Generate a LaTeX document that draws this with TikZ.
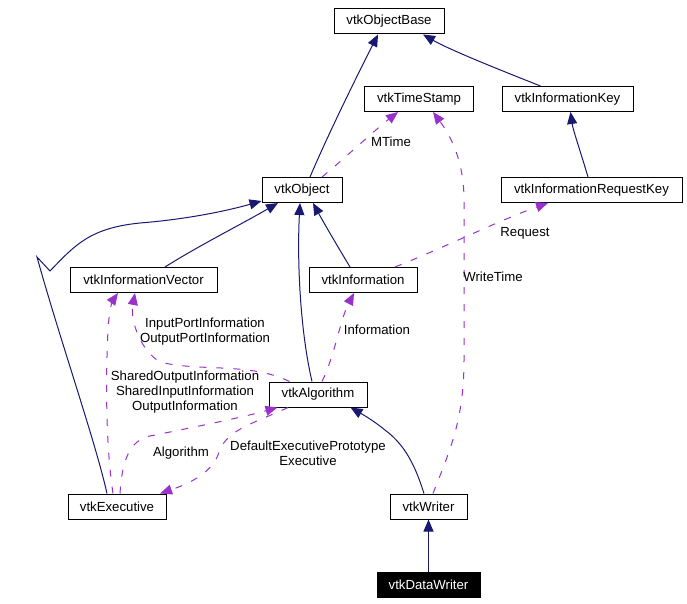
\documentclass[tikz,border=0pt]{standalone}
\usepackage{fontspec}
\setmainfont{Liberation Sans}
\usetikzlibrary{arrows.meta}
\definecolor{navy}{RGB}{25,25,112}
\definecolor{orchid}{RGB}{153,50,204}
\tikzset{
  cls/.style={draw=black, line width=1pt, minimum height=25pt, inner sep=0pt, font=\fontsize{13.2}{15}\selectfont},
  inh/.style={draw=navy, line width=1pt, -{Triangle[length=12pt,width=10pt]}, fill=none},
  use/.style={draw=orchid, line width=1pt, dash pattern=on 7pt off 10pt, -{Triangle[length=12pt,width=10pt]}},
  lbl/.style={font=\fontsize{13.2}{15}\selectfont, align=center, inner sep=0pt}
}
\begin{document}
\begin{tikzpicture}[x=1pt,y=-1pt]
\useasboundingbox (0,0) rectangle (687,604);
% nodes
\node[cls, minimum width=110pt] (objbase) at (389,21.5) {vtkObjectBase};
\node[cls, minimum width=109pt] (ts) at (419,99) {vtkTimeStamp};
\node[cls, minimum width=131pt] (infokey) at (567.5,99) {vtkInformationKey};
\node[cls, minimum width=80pt] (obj) at (302,190) {vtkObject};
\node[cls, minimum width=181pt] (reqkey) at (591.5,190) {vtkInformationRequestKey};
\node[cls, minimum width=108pt] (info) at (363,280) {vtkInformation};
\node[cls, minimum width=147pt] (infovec) at (143.5,280) {vtkInformationVector};
\node[cls, minimum width=98pt] (alg) at (318,394.5) {vtkAlgorithm};
\node[cls, minimum width=98pt] (exec) at (117,506.5) {vtkExecutive};
\node[cls, minimum width=77pt] (writer) at (428.5,506.5) {vtkWriter};
\node[cls, minimum width=103pt, fill=black, text=white] (dw) at (428.5,584.5) {vtkDataWriter};
% inheritance
\draw[inh] ([xshift=8pt]obj.north) .. controls (330,130) and (360,70) .. ([xshift=-11pt]objbase.south);
\draw[inh] ([xshift=-27pt]infokey.north) .. controls (500,70) and (450,50) .. ([xshift=34pt]objbase.south);
\draw[inh] ([xshift=-3.5pt]reqkey.north) .. controls (580,150) and (573,130) .. ([xshift=3pt]infokey.south);
\draw[inh] ([xshift=21.5pt]infovec.north) .. controls (200,245) and (240,225) .. ([xshift=-24pt]obj.south);
\coordinate (bend) at (37,257);
\draw[inh] ([xshift=-10pt]exec.north) .. controls (95,440) and (60,340) .. (bend) -- (50,271) .. controls (75,245) and (90,228) .. (140,223) .. controls (190,219) and (230,210) .. ([yshift=2pt]obj.south west);
\draw[inh] ([xshift=-13pt]info.north) .. controls (338,247) and (325,225) .. ([xshift=11pt]obj.south);
\draw[inh] ([xshift=-6pt]alg.north) .. controls (300,330) and (297,260) .. ([xshift=-2pt]obj.south);
\draw[inh] ([xshift=-4.5pt]writer.north) .. controls (415,465) and (405,445) .. (385,430) .. controls (370,418) and (360,413) .. ([xshift=-17pt]alg.south east);
\draw[inh] (dw.north) -- (writer.south);
% usage
\draw[use] ([xshift=20pt]obj.north) .. controls (345,158) and (375,130) .. ([xshift=-21pt]ts.south);
\node[lbl] (lmtime) at (391,142) {MTime};
\draw[use] ([xshift=4.5pt]writer.north) .. controls (450,450) and (464,420) .. (464,360) -- (464,200) .. controls (464,160) and (450,135) .. ([xshift=14pt]ts.south);
\node[lbl] (lwrite) at (493,277) {WriteTime};
\draw[use] ([xshift=32pt]info.north) .. controls (450,245) and (500,220) .. ([xshift=-43.5pt]reqkey.south);
\node[lbl] (lreq) at (525,233) {Request};
\draw[use] ([xshift=4pt]alg.north) .. controls (335,355) and (340,320) .. ([xshift=-9pt]info.south);
\node[lbl] (linfo) at (377,330) {Information};
\draw[use] ([xshift=21pt]alg.north west) .. controls (250,362) and (200,372) .. (160,362) .. controls (140,350) and (130,320) .. ([xshift=-8.5pt]infovec.south);
\node[lbl] (lport) at (205,332) {InputPortInformation\\OutputPortInformation};
\draw[use] ([xshift=-4pt]exec.north) .. controls (105,440) and (106,370) .. (108,330) .. controls (109,310) and (113,300) .. ([xshift=-25.5pt]infovec.south);
\node[lbl] (lshared) at (185,392) {SharedOutputInformation\\SharedInputInformation\\OutputInformation};
\draw[use] ([xshift=3pt]exec.north) .. controls (122,460) and (130,440) .. (150,436) .. controls (190,428) and (240,418) .. ([xshift=9pt]alg.south west);
\node[lbl] (lalg) at (181,453) {Algorithm};
\draw[use] ([xshift=-30pt]alg.south) .. controls (250,425) and (225,430) .. (218,455) .. controls (210,475) and (185,485) .. ([xshift=43pt]exec.north);
\node[lbl] (ldef) at (308,453.5) {DefaultExecutivePrototype\\Executive};
\end{tikzpicture}
\end{document}
